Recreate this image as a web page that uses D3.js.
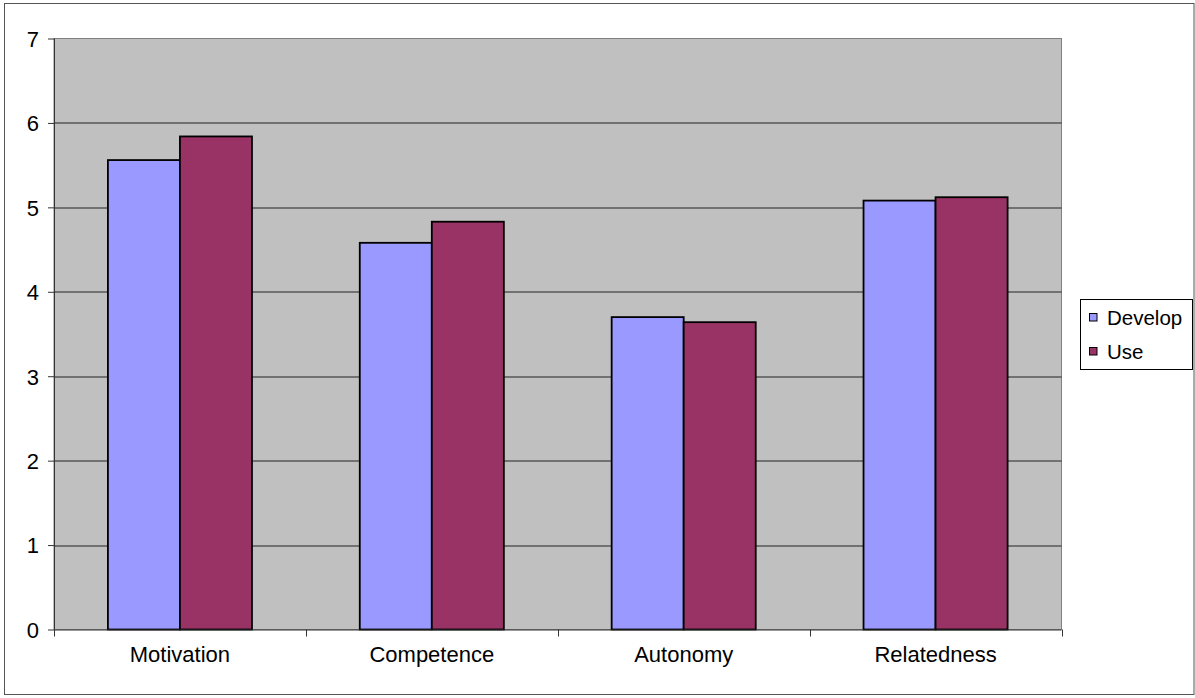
<!DOCTYPE html>
<html>
<head>
<meta charset="utf-8">
<script src="https://cdn.jsdelivr.net/npm/d3@7"></script>
<style>
  body { margin: 0; background: #fff; }
  svg text { font-family: "Liberation Sans", Arial, sans-serif; fill: #000; }
</style>
</head>
<body>
<div id="chart"></div>
<script>
const categories = ['Motivation', 'Competence', 'Autonomy', 'Relatedness'];
const seriesNames = ['Develop', 'Use'];
const developValues = [5.56, 4.58, 3.70, 5.08];
const useValues = [5.84, 4.83, 3.64, 5.12];
const yTicks = [0, 1, 2, 3, 4, 5, 6, 7];
const colors = ['#9999FF', '#993366'];

const width = 1195, height = 698;
const margin = {left: 54, top: 38.5, right: 133.5, bottom: 68.5};
const plotW = width - margin.left - margin.right;
const plotH = height - margin.top - margin.bottom;

const svg = d3.select('#chart').append('svg')
  .attr('width', width)
  .attr('height', height);

//Outer frame
svg.append('rect')
  .attr('x', 4.5).attr('y', 3.5)
  .attr('width', 1189.5).attr('height', 691)
  .attr('fill', '#fff')
  .attr('stroke', '#555')
  .attr('stroke-width', 1);

const g = svg.append('g')
  .attr('transform', 'translate(' + margin.left + ',' + margin.top + ')');

const x = d3.scaleBand().domain(categories).range([0, plotW]).padding(0);
const y = d3.scaleLinear().domain([0, 7]).range([plotH, 0]);
//Bars take 144/252 of each category, matching a 150% gap width
const barW = x.bandwidth() * 72 / 251.75;
const x1 = d3.scaleBand().domain(seriesNames)
  .range([x.bandwidth() / 2 - barW, x.bandwidth() / 2 + barW]);

//Plot background
g.append('rect')
  .attr('width', plotW).attr('height', plotH)
  .attr('fill', '#C0C0C0')
  .attr('stroke', '#808080')
  .attr('stroke-width', 1);

//Gridlines
g.append('g').selectAll('line')
  .data(yTicks.filter(d => d > 0 && d < 7))
  .enter().append('line')
  .attr('x1', 0).attr('x2', plotW)
  .attr('y1', d => Math.round(y(d)) + 0.5)
  .attr('y2', d => Math.round(y(d)) + 0.5)
  .attr('stroke', '#222')
  .attr('stroke-width', 1);

//Bars
const rows = categories.map((c, i) => ({cat: c, vals: [developValues[i], useValues[i]]}));
const groups = g.selectAll('.cat')
  .data(rows)
  .enter().append('g')
  .attr('class', 'cat')
  .attr('transform', d => 'translate(' + x(d.cat) + ',0)');

groups.selectAll('rect')
  .data(d => d.vals.map((v, j) => ({name: seriesNames[j], v: v, j: j})))
  .enter().append('rect')
  .attr('x', d => x1(d.name))
  .attr('y', d => y(d.v))
  .attr('width', x1.bandwidth())
  .attr('height', d => plotH - y(d.v))
  .attr('fill', d => colors[d.j])
  .attr('stroke', '#000')
  .attr('stroke-width', 1.8);

//Y axis
const yAxis = g.append('g')
  .call(d3.axisLeft(y).tickValues(yTicks).tickSize(6).tickPadding(9).tickFormat(d3.format('d')));
yAxis.select('.domain').attr('stroke', '#333').attr('d', 'M0.5,0V' + plotH);
yAxis.selectAll('.tick line').attr('stroke', '#333');
yAxis.selectAll('text').style('font-size', '22px').attr('dy', '0.36em');

//X axis
const xAxis = g.append('g')
  .attr('transform', 'translate(0,' + plotH + ')')
  .call(d3.axisBottom(x).tickSize(0).tickPadding(17));
xAxis.select('.domain').attr('stroke', '#333').attr('d', 'M0,0.5H' + plotW);
xAxis.selectAll('text').style('font-size', '22px').attr('dy', '0.71em');

//Category boundary ticks
g.append('g').selectAll('line')
  .data(d3.range(categories.length + 1))
  .enter().append('line')
  .attr('x1', i => Math.round(i * x.step()) + 0.5)
  .attr('x2', i => Math.round(i * x.step()) + 0.5)
  .attr('y1', plotH).attr('y2', plotH + 7)
  .attr('stroke', '#333');

//Legend
const legend = svg.append('g').attr('transform', 'translate(1080,299)');
legend.append('rect')
  .attr('x', 0.5).attr('y', 0.5)
  .attr('width', 112).attr('height', 70)
  .attr('fill', '#fff')
  .attr('stroke', '#000');

const item = legend.selectAll('.item')
  .data(seriesNames)
  .enter().append('g')
  .attr('class', 'item')
  .attr('transform', (d, i) => 'translate(0,' + (i * 34) + ')');

item.append('rect')
  .attr('x', 9.5).attr('y', 14.5)
  .attr('width', 7.5).attr('height', 7.5)
  .attr('fill', (d, i) => colors[i])
  .attr('stroke', '#000');

item.append('text')
  .attr('x', 27).attr('y', 26)
  .style('font-size', '20.5px')
  .text(d => d);
</script>
</body>
</html>
